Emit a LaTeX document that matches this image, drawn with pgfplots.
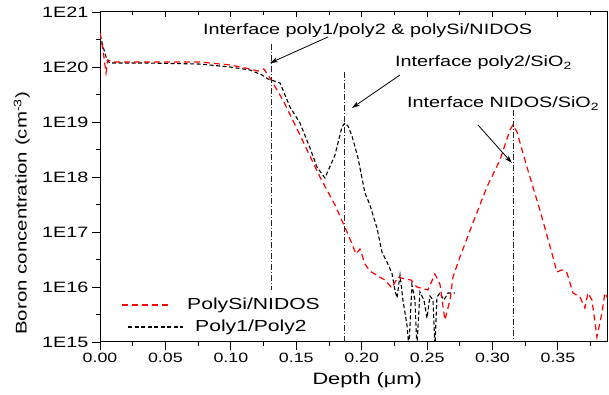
\documentclass[border=0pt]{standalone}
\usepackage{fontspec}
\setmainfont{Liberation Sans}[FakeStretch=1.32]
\usepackage{pgfplots}
\pgfplotsset{compat=1.18}
\usetikzlibrary{arrows.meta}

\pgfplotstableread{
x y
0 4.15e20
0.0023 2.04e20
0.0046 7.78e19
0.0061 1.34e20
0.0092 1.23e20
0.0382 1.23e20
0.0764 1.23e20
0.0993 1.09e20
0.1146 9.2e19
0.1207 8.45e19
0.1253 9.2e19
0.1299 6.31e19
0.1398 2.51e19
0.1528 5.81e18
0.1681 1.0e18
0.1796 3.10e17
0.1888 1.0e17
0.1926 6.05e16
0.1956 3.98e16
0.1987 4.91e16
0.2025 2.62e16
0.2063 1.95e16
0.2124 1.58e16
0.2178 1.34e16
0.2231 9.6e15
0.2277 1.52e16
0.2331 1.40e16
0.2377 1.34e16
0.2422 1.0e16
0.2506 8.81e15
0.2560 1.72e16
0.2598 1.13e16
0.2636 2.51e15
0.2675 5.81e15
0.2698 1.52e16
0.2751 3.51e16
0.2850 1.46e17
0.2957 6.58e17
0.3057 2.04e18
0.3133 7.16e18
0.3156 8.81e18
0.3187 6.58e18
0.3263 1.52e18
0.3362 2.51e17
0.3462 3.51e16
0.3492 1.87e16
0.3530 2.04e16
0.3569 1.80e16
0.3615 7.78e15
0.3668 6.58e15
0.3706 4.15e15
0.3729 7.78e15
0.3760 5.81e15
0.3798 1.23e15
0.3836 3.37e15
0.3859 7.78e15
0.3875 6.58e15
}\polysi

\pgfplotstableread{
x y
0 3.82e20
0.0031 2.04e20
0.0053 1.34e20
0.0076 1.18e20
0.0382 1.18e20
0.0764 1.13e20
0.0993 1.0e20
0.1146 8.81e19
0.1238 7.16e19
0.1284 6.05e19
0.1376 5.12e19
0.1452 1.87e19
0.1528 9.6e18
0.1605 3.37e18
0.1658 1.52e18
0.1719 9.6e17
0.1796 2.51e18
0.1849 8.1e18
0.1872 9.6e18
0.1895 8.45e18
0.1926 5.56e18
0.1972 2.21e18
0.2025 5.12e17
0.2063 3.10e17
0.2117 1.18e17
0.2155 4.33e16
0.2193 2.85e16
0.2231 1.80e16
0.2254 8.81e15
0.2270 6.31e15
0.2293 1.65e16
0.2315 5.81e15
0.2346 2.04e15
0.2361 8e14
0.2384 1.09e16
0.2407 5.81e15
0.2422 8e14
0.2445 8.1e15
0.2476 5.81e15
0.2499 2.73e15
0.2522 6.86e15
0.2545 5.81e15
0.2560 8e14
0.2575 6.58e15
0.2598 7.78e15
0.2629 5.81e15
0.2659 7.78e15
0.2713 7.78e15
}\polypoly

\tikzset{
  vline/.style={black!85, line width=0.8pt, dash pattern=on 6pt off 2pt on 1pt off 2pt},
  redline/.style={draw=red, line width=1.2pt, dash pattern=on 6pt off 4pt},
  blkline/.style={draw=black, line width=1.1pt, dash pattern=on 4pt off 2.5pt},
}

\begin{document}
\begin{tikzpicture}
\begin{axis}[
  at={(0,0)}, anchor=south west,
  scale only axis, width=507pt, height=330pt,
  xmin=0, xmax=0.3875, ymin=1e15, ymax=1e21, ymode=log,
  xtick={0,0.05,0.1,0.15,0.2,0.25,0.3,0.35},
  xticklabels={0.00,0.05,0.10,0.15,0.20,0.25,0.30,0.35},
  minor xtick={0.025,0.075,0.125,0.175,0.225,0.275,0.325,0.375},
  ytick={1e15,1e16,1e17,1e18,1e19,1e20,1e21},
  yticklabels={1E15,1E16,1E17,1E18,1E19,1E20,1E21},
  minor ytick={3.162e15,3.162e16,3.162e17,3.162e18,3.162e19,3.162e20},
  /pgf/number format/assume math mode=true,
  tick align=outside, xtick pos=left, ytick pos=left,
  major tick length=8pt, minor tick length=4pt,
  every tick/.style={black, line width=0.9pt},
  axis line style={line width=1pt},
  xticklabel style={font=\fontsize{13.5}{15}\selectfont},
  yticklabel style={font=\fontsize{15}{17}\selectfont},
  xlabel={Depth (μm)},
  ylabel={Boron concentration  (cm\textsuperscript{-3})},
  xlabel style={font=\fontsize{16.5}{18}\selectfont, at={(axis description cs:0.527,-0.115)}, anchor=center},
  ylabel style={font=\fontsize{15.5}{17}\selectfont, at={(axis description cs:-0.154,0.39)}, anchor=center},
  clip=true,
]
\addplot[blkline] table[x=x,y=y] {\polypoly};
\addplot[redline] table[x=x,y=y] {\polysi};

% legend keys
\addplot[redline, forget plot] coordinates {(0.0168,4.71e15) (0.0550,4.71e15)};
\addplot[blkline, forget plot] coordinates {(0.0214,1.87e15) (0.0634,1.87e15)};
\node[anchor=west, inner sep=0pt, font=\fontsize{16}{18}\selectfont] at (axis cs:0.0665,4.6e15) {PolySi/NIDOS};
\node[anchor=west, inner sep=0pt, font=\fontsize{16}{18}\selectfont] at (axis cs:0.0726,1.83e15) {Poly1/Poly2};

\addplot[vline, forget plot] coordinates {(0.1307,2.6e20) (0.1307,8.8e15)};
\addplot[vline, forget plot] coordinates {(0.1865,8.1e19) (0.1865,1e15)};
\addplot[vline, forget plot] coordinates {(0.3156,1.65e19) (0.3156,1e15)};

\node[anchor=base west, inner sep=0pt, font=\fontsize{15}{17}\selectfont] at (axis cs:0.0787,3.82e20) {Interface poly1/poly2 \& polySi/NIDOS};
\node[anchor=base west, inner sep=0pt, font=\fontsize{15}{17}\selectfont] at (axis cs:0.2254,1e20) {Interface poly2/SiO\textsubscript{2}};
\node[anchor=base west, inner sep=0pt, font=\fontsize{15}{17}\selectfont] at (axis cs:0.2346,1.8e19) {Interface NIDOS/SiO\textsubscript{2}};

\draw[-{Stealth[length=8pt,width=5pt]}, line width=0.8pt] (axis cs:0.1742,3.51e20) -- (axis cs:0.1299,1.18e20);
\draw[-{Stealth[length=8pt,width=5pt]}, line width=0.8pt] (axis cs:0.2293,7.16e19) -- (axis cs:0.1926,1.8e19);
\draw[-{Stealth[length=8pt,width=5pt]}, line width=0.8pt] (axis cs:0.2889,8.81e18) -- (axis cs:0.3148,1.8e18);
\end{axis}
\begin{axis}[
  at={(0,0)}, anchor=south west,
  scale only axis, width=507pt, height=330pt,
  xmin=0, xmax=0.3875, ymin=1e15, ymax=1e21, ymode=log,
  axis x line*=top, axis y line=none,
  xtick={0,0.05,0.1,0.15,0.2,0.25,0.3,0.35},
  minor xtick={0.025,0.075,0.125,0.175,0.225,0.275,0.325,0.375},
  xticklabels={}, tick align=inside,
  major tick length=5pt, minor tick length=3pt,
  every tick/.style={black, line width=0.9pt},
  axis line style={line width=1pt},
]
\end{axis}
\pgfresetboundingbox
\useasboundingbox (-100pt,-52pt) rectangle (509pt,342pt);
\end{tikzpicture}
\end{document}
